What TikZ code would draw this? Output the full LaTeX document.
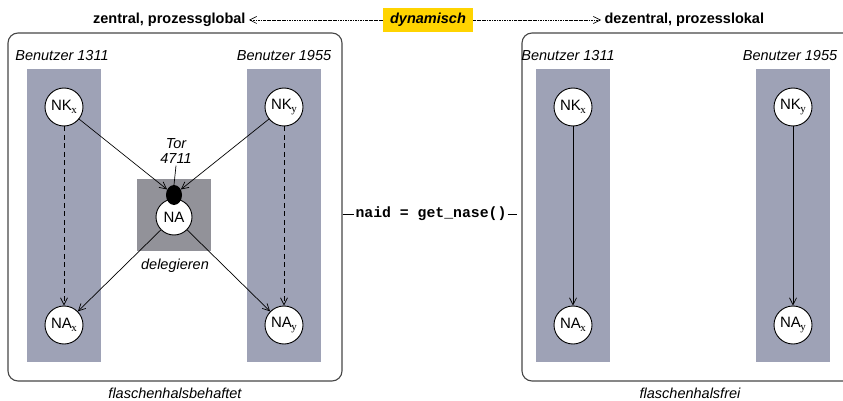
\documentclass[tikz,border=0pt]{standalone}
\usepackage{fontspec}
\setmainfont{Liberation Sans}
\setmonofont{Liberation Mono}
\newfontfamily\subfont{Liberation Serif}
\usetikzlibrary{arrows.meta,shapes.geometric}

\definecolor{lane}{RGB}{158,162,182}
\definecolor{delegbox}{RGB}{146,146,153}
\definecolor{framegray}{RGB}{70,70,70}
\definecolor{dyngold}{RGB}{255,212,0}

\newcommand{\sub}[1]{\kern-0.5pt\raisebox{-0.4ex}{\subfont\fontsize{11}{11}\selectfont #1}}

\tikzset{
  base/.style={font=\fontsize{14.5}{16}\selectfont},
  frame/.style={draw=framegray, line width=1.1pt, rounded corners=10pt, minimum width=#1, minimum height=348, inner sep=0pt},
  lanebox/.style={fill=lane, draw=none, minimum width=74, minimum height=293, inner sep=0pt},
  proc/.style={circle, draw, fill=white, line width=0.9pt, minimum size=38, inner sep=0pt, font=\fontsize{15}{16}\selectfont},
  user/.style={font=\fontsize{14.5}{16}\selectfont\itshape},
  caption/.style={font=\fontsize{14.5}{16}\selectfont\itshape},
  heading/.style={font=\fontsize{14.5}{16}\selectfont\bfseries},
  barb/.style={-{Straight Barb[length=7pt,width=7pt]}},
  flow/.style={barb, line width=0.7pt},
  dashflow/.style={barb, line width=0.7pt, dash pattern=on 5pt off 3.5pt},
  dashdot/.style={line width=0.6pt, dash pattern=on 2.5pt off 1pt on 0.6pt off 1pt},
}

\begin{document}
\begin{tikzpicture}[x=1pt,y=-1pt,base]
\useasboundingbox (0,0) rectangle (843,401);
\begin{scope}
\clip (0,0) rectangle (843,401);

% ---- header: centralised vs. decentralised
\node[fill=dyngold, minimum width=90, minimum height=24, inner sep=0pt,
      font=\fontsize{14.5}{16}\selectfont\bfseries\itshape] (dyn) at (428,20) {dynamisch};
\node[heading, anchor=east] (zen) at (249,20) {zentral, prozessglobal};
\node[heading, anchor=west] (dez) at (601,20) {dezentral, prozesslokal};
\draw[dashdot, -{Straight Barb[length=7pt,width=7pt]}] (dyn.west) -- (zen.east);
\draw[dashdot, -{Straight Barb[length=7pt,width=7pt]}] (dyn.east) -- (dez.west);

% ---- left frame: bottleneck through a gate
\node[frame=334] (lframe) at (175,207) {};
\node[lanebox] (llane1) at (64,215.5) {};
\node[lanebox] (llane2) at (284,215.5) {};
\node[user] (lu1) at (62,56) {Benutzer 1311};
\node[user] (lu2) at (284,56) {Benutzer 1955};
\node[fill=delegbox, minimum width=74, minimum height=72, inner sep=0pt] (deleg) at (174,215) {};

\node[proc] (lnkx) at (64,107) {NK\sub{x}};
\node[proc] (lnky) at (284,107) {NK\sub{y}};
\node[proc] (lnax) at (64,325) {NA\sub{x}};
\node[proc] (lnay) at (284,325) {NA\sub{y}};
\node[proc, minimum size=36] (na) at (174,217) {NA};
\node[ellipse, fill=black, minimum width=16, minimum height=20, inner sep=0pt] (tor) at (174,195) {};
\node[user, align=center, inner sep=0pt, font=\fontsize{14.5}{15}\selectfont\itshape] (torlbl) at (176,151) {Tor\\4711};
\node[user] (dlbl) at (175,266) {delegieren};

\draw[line width=0.7pt] (torlbl.south) ++(0,2) -- (tor.north);
\draw[flow] (lnkx) -- (tor);
\draw[flow] (lnky) -- (tor);
\draw[flow] (na) -- (lnax);
\draw[flow] (na) -- (lnay);
\draw[dashflow] (lnkx) -- (lnax);
\draw[dashflow] (lnky) -- (lnay);

\node[caption] (lcap) at (175,393) {flaschenhalsbehaftet};

% ---- right frame: no bottleneck
\node[frame=334] (rframe) at (689,207) {};
\node[lanebox] (rlane1) at (573,215.5) {};
\node[lanebox] (rlane2) at (793,215.5) {};
\node[user] (ru1) at (568,56) {Benutzer 1311};
\node[user] (ru2) at (790,56) {Benutzer 1955};

\node[proc] (rnkx) at (573,107) {NK\sub{x}};
\node[proc] (rnky) at (793,107) {NK\sub{y}};
\node[proc] (rnax) at (573,325) {NA\sub{x}};
\node[proc] (rnay) at (793,325) {NA\sub{y}};
\draw[flow] (rnkx) -- (rnax);
\draw[flow] (rnky) -- (rnay);

\node[caption] (rcap) at (690,393) {flaschenhalsfrei};

% ---- the call that links both variants
\node[font=\fontsize{14.8}{16}\selectfont\ttfamily\bfseries, inner sep=1pt] (call) at (431,214) {naid = get\_nase()};
\draw[line width=0.8pt] (call.west -| lframe.east) -- (call.west);
\draw[line width=0.8pt] (call.east) -- ([xshift=-4pt]call.east -| rframe.west);
\end{scope}
\end{tikzpicture}
\end{document}
